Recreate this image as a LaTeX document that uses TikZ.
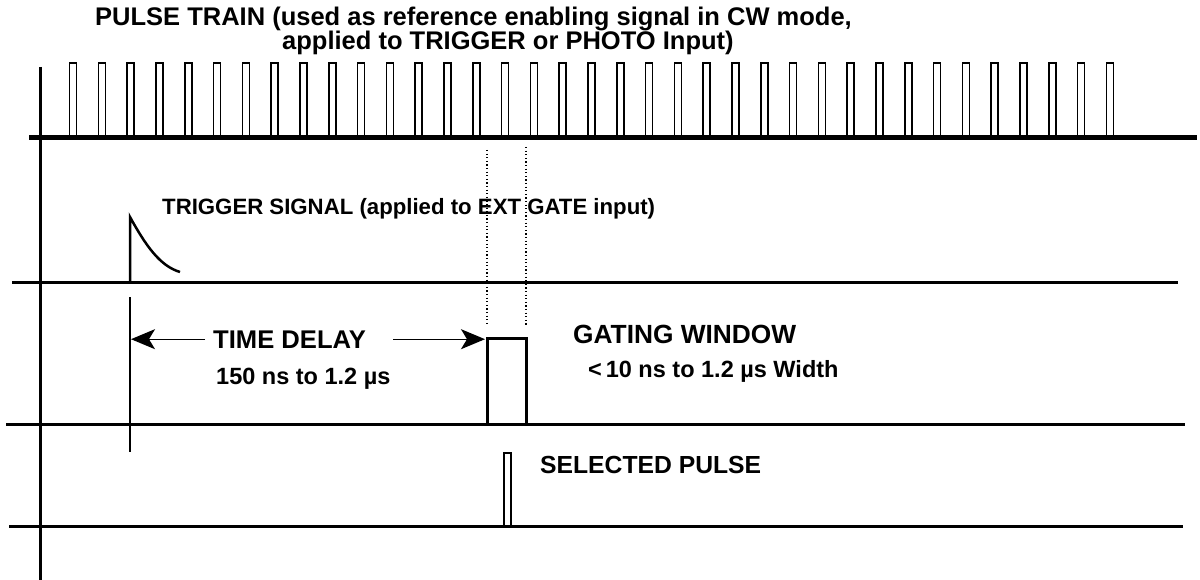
\documentclass[tikz,border=0pt]{standalone}
\usepackage{fontspec}
\setmainfont{Liberation Sans}
\usetikzlibrary{arrows.meta}
\begin{document}
\begin{tikzpicture}[
  x=1pt, y=-1pt,
  axis/.style={line width=3pt},
  pulse/.style={line width=1.6pt},
  label/.style={anchor=base west, inner sep=0pt, font=\bfseries\fontsize{#1}{#1}\selectfont},
  label/.default=23.5,
  dly/.style={line width=1.3pt, -{Stealth[length=24pt, width=20pt, inset=6pt]}},
  marker/.style={line width=1.2pt, dash pattern=on 1.2pt off 2.4pt}
]
  \useasboundingbox (0,0) rectangle (1200,580);

  % time axis and the four signal baselines
  \draw[axis] (40,67) -- (40,580);
  \draw[line width=5pt] (29,138) -- (1197,138);
  \draw[axis] (12,283) -- (1178,283);
  \draw[axis] (6,424) -- (1185,424);
  \draw[axis] (9,526) -- (1183,526);

  % pulse train
  \foreach \i in {0,...,36}
    \draw[pulse] ({73+28.8*\i-3.5},138) rectangle ++(7,-75);

  % trigger signal
  \draw[line width=2.5pt] (130,283) -- (130,217)
    .. controls (146,246) and (160,266) .. (180,272);

  % gating window and selected pulse
  \draw[marker] (487,150) -- (487,325);
  \draw[marker] (526,147) -- (526,325);
  \draw[line width=3pt] (487,424) rectangle (526,338);
  \draw[line width=2.5pt] (504,526) rectangle (511,453);
  \draw[line width=1.4pt] (130,297) -- (130,452);

  % labels
  \node[label=25.5] (title1) at (95,26) {PULSE TRAIN (used as reference enabling signal in CW mode,};
  \node[label=25.5] (title2) at (282,50) {applied to TRIGGER or PHOTO Input)};
  \node[label=22.2] (trig) at (162,215) {TRIGGER SIGNAL (applied to EXT GATE input)};
  \node[label=25.6] (delay) at (213,348) {TIME DELAY};
  \node[label] (range) at (216,384) {150 ns to 1.2 µs};
  \node[label=26.3] (gate) at (573,343) {GATING WINDOW};
  \node[label] (width) at (588,377) {<\,10 ns to 1.2 µs Width};
  \node[label=24.7] (sel) at (540,473) {SELECTED PULSE};

  % delay arrows
  \coordinate (start) at (131,337);
  \coordinate (open) at (485,338);
  \draw[dly] ([xshift=-8pt]delay.west) -- (delay.west -| start);
  \draw[dly] ([xshift=27pt]delay.east) -- (delay.east -| open);
\end{tikzpicture}
\end{document}
